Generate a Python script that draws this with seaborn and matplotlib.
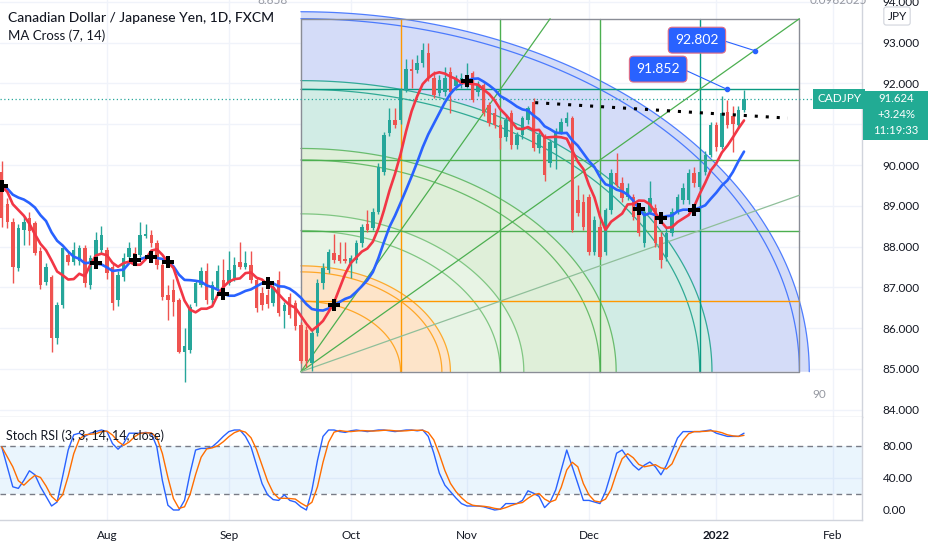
import numpy as np
import pandas as pd
import matplotlib
matplotlib.use("Agg")
import matplotlib.pyplot as plt
import seaborn as sns
from matplotlib.patches import Polygon, FancyBboxPatch

# ---- data ----
opens = [89.84, 89.05, 88.61, 87.48, 88.41, 88.70, 88.58, 87.88, 87.14, 87.26,
         85.76, 86.57, 87.80, 87.63, 87.65, 87.97, 87.06, 87.63, 87.92, 87.92,
         87.51, 86.69, 87.26, 87.75, 87.84, 87.80, 88.26, 88.28, 88.09, 87.55,
         86.81, 86.93, 86.69, 85.42, 85.47, 86.61, 87.06, 87.39, 86.69, 86.98,
         87.18, 87.11, 87.23, 87.63, 87.51, 87.55, 87.18, 86.86, 86.80, 86.61,
         87.18, 86.41, 86.77, 86.61, 86.08, 85.95, 85.15, 85.88, 87.11, 87.43,
         87.85, 87.80, 87.70, 87.60, 87.67, 88.09, 88.55, 88.46, 88.85, 89.83,
         90.78, 91.10, 91.10, 91.84, 92.36, 92.33, 92.50, 92.75, 92.13, 91.77,
         91.79, 92.28, 91.95, 91.96, 91.95, 92.26, 91.79, 91.96, 91.47, 91.28,
         90.98, 90.69, 91.28, 90.49, 90.74, 91.10, 91.55, 90.42, 90.66, 90.05,
         90.42, 90.81, 91.03, 91.15, 89.14, 89.09, 89.22, 87.87, 88.48, 87.87,
         88.89, 89.80, 89.56, 89.22, 89.22, 88.82, 88.09, 88.85, 88.94, 88.24,
         87.75, 88.34, 88.85, 89.14, 89.14, 89.80, 89.46, 89.83, 90.25, 90.98,
         90.44, 91.30, 91.20, 90.98, 91.35]
highs = [90.10, 89.20, 88.70, 88.55, 88.75, 88.85, 88.62, 88.00, 87.60, 87.30,
         86.65, 88.00, 87.90, 88.10, 88.05, 88.05, 87.80, 88.35, 88.50, 88.00,
         87.60, 87.40, 87.85, 88.10, 88.00, 88.60, 88.55, 88.40, 88.15, 87.60,
         87.05, 87.20, 86.75, 86.00, 86.60, 87.15, 87.50, 87.60, 87.15, 87.55,
         87.70, 87.90, 87.75, 88.10, 87.90, 87.90, 87.25, 87.00, 86.95, 87.10,
         87.40, 86.65, 86.85, 86.70, 86.15, 86.05, 85.95, 87.20, 87.60, 87.95,
         88.30, 88.10, 88.10, 87.80, 88.15, 88.55, 88.90, 88.95, 90.05, 90.80,
         91.40, 91.40, 91.90, 92.60, 92.60, 92.70, 93.00, 93.00, 92.30, 92.20,
         92.40, 92.40, 92.20, 92.25, 92.50, 92.30, 92.05, 92.00, 91.55, 91.40,
         91.10, 91.25, 91.35, 90.80, 91.20, 91.45, 91.65, 90.80, 90.75, 90.65,
         90.90, 91.15, 91.30, 91.20, 89.50, 89.30, 89.30, 88.75, 88.55, 88.95,
         89.90, 90.30, 89.70, 89.55, 89.30, 88.95, 88.95, 89.60, 89.05, 88.35,
         88.45, 88.95, 89.30, 89.55, 89.90, 89.95, 90.10, 90.35, 91.05, 91.05,
         91.70, 91.60, 91.45, 91.45, 91.85]
lows = [88.49, 88.45, 87.11, 87.40, 88.05, 88.05, 87.80, 86.95, 87.05, 85.42,
        85.60, 86.50, 87.55, 87.55, 87.55, 87.00, 86.95, 87.55, 87.85, 87.20,
        86.45, 86.55, 87.15, 87.70, 87.55, 87.75, 88.20, 88.00, 87.45, 86.70,
        86.20, 86.30, 85.40, 84.69, 85.40, 86.55, 87.00, 86.60, 86.60, 86.90,
        86.85, 87.05, 87.15, 87.45, 87.45, 87.10, 86.40, 86.45, 86.50, 86.55,
        86.30, 86.00, 86.25, 85.95, 85.15, 85.05, 84.95, 85.80, 86.95, 87.35,
        87.60, 87.60, 87.60, 87.23, 87.60, 88.00, 88.35, 88.40, 88.80, 89.75,
        90.70, 90.90, 91.00, 91.80, 91.90, 92.25, 92.40, 92.05, 91.65, 91.70,
        91.70, 91.28, 91.85, 91.90, 91.90, 91.55, 91.70, 91.20, 90.95, 90.90,
        90.40, 90.60, 90.40, 90.40, 90.65, 91.00, 90.35, 90.30, 89.60, 89.95,
        89.90, 90.75, 90.95, 88.35, 88.75, 88.40, 87.80, 87.80, 87.70, 87.80,
        88.80, 89.45, 89.10, 89.15, 88.65, 88.25, 88.00, 88.80, 88.00, 87.48,
        87.65, 88.25, 88.80, 89.05, 89.05, 89.45, 89.40, 89.75, 90.20, 90.35,
        90.40, 90.90, 90.32, 90.90, 91.30]
closes = [88.70, 88.61, 87.51, 88.46, 88.61, 88.37, 87.84, 87.06, 87.51, 85.76,
          86.57, 87.97, 87.63, 87.92, 87.97, 87.10, 87.72, 88.16, 88.28, 87.35,
          86.62, 87.31, 87.72, 87.97, 87.63, 88.28, 88.30, 88.09, 87.55, 86.77,
          86.69, 86.65, 85.42, 85.55, 86.53, 87.10, 87.39, 86.69, 87.06, 87.39,
          86.90, 87.43, 87.55, 87.51, 87.60, 87.18, 86.49, 86.57, 86.60, 87.02,
          86.37, 86.57, 86.33, 86.04, 85.20, 85.20, 85.88, 87.11, 87.48, 87.87,
          87.67, 87.65, 87.65, 87.72, 88.09, 88.48, 88.40, 88.85, 89.95, 90.73,
          91.10, 90.98, 91.84, 92.36, 92.30, 92.50, 92.82, 92.13, 91.72, 92.09,
          92.13, 91.79, 92.10, 92.13, 92.08, 91.60, 91.96, 91.28, 91.03, 90.98,
          90.66, 91.10, 90.49, 90.74, 91.15, 91.40, 90.42, 90.74, 89.76, 90.57,
          90.81, 91.06, 91.15, 88.41, 88.82, 88.48, 87.87, 88.65, 87.75, 88.89,
          89.80, 89.51, 89.19, 89.44, 88.73, 88.34, 88.85, 89.19, 88.09, 87.67,
          88.34, 88.85, 89.22, 89.44, 89.80, 89.56, 89.83, 90.25, 90.98, 90.44,
          91.28, 90.98, 91.00, 91.35, 91.62]
# closes of the 14 sessions before the visible window (needed for the MAs)
warmup_closes = [89.20, 89.35, 89.60, 89.45, 89.30, 89.55, 89.40,
                 89.70, 89.50, 89.65, 89.45, 89.60, 89.75, 89.65]
stoch_k = [79, 54, 29, 27, 37, 49, 44, 29, 17, 5, 10, 42, 75, 94, 96, 92, 96, 98, 100, 98,
           83, 76, 83, 96, 96, 96, 97, 96, 79, 37, 6, 0, 0, 12, 46, 75, 77, 77, 79, 85,
           92, 98, 100, 100, 92, 79, 56, 33, 19, 13, 12, 19, 12, 10, 4, 0, 25, 62, 92, 100,
           100, 98, 97, 99, 100, 99, 98, 99, 100, 100, 99, 98, 99, 100, 100, 99, 100, 92, 71, 46,
           31, 23, 15, 8, 5, 5, 5, 4, 2, 0, 1, 8, 8, 8, 12, 24, 21, 17, 3, 10,
           25, 50, 75, 54, 33, 12, 12, 10, 8, 23, 46, 71, 75, 65, 56, 50, 56, 60, 54, 44,
           56, 73, 90, 98, 98, 98, 98, 99, 100, 96, 94, 92, 92, 92, 96]
month_ticks = [19, 41, 63, 84, 106, 129, 150]
month_labels = ["Aug", "Sep", "Oct", "Nov", "Dec", "2022", "Feb"]
price_ticks = [84, 85, 86, 87, 88, 89, 90, 91, 92, 93, 94]
stoch_ticks = [0, 40, 80]

# gann box: start bar, length in bars, low price, price height
gann_start, gann_bars = 54, 90
gann_low, gann_height = 84.93, 8.658
arc_levels = [(1, 0), (1, 1), (1.5, 0), (2, 0), (2, 1), (3, 0), (3, 1),
              (4, 0), (4, 1), (5, 0), (5, 1)]
fan_ratios = [2.0, 1.0, 0.5]
trend_pts = [(96.3, 91.53), (141.9, 91.15)]
# (bar, price, label, label centre offset in bars, in price)
price_marks = [(131, 91.852, "91.852", -12.5, 0.50), (136, 92.802, "92.802", -10.5, 0.26)]
last_price, last_change, countdown = 91.624, "+3.24%", "11:19:33"

UP, DOWN = "#26a69a", "#ef5350"
W, H = 932, 550

sns.set_theme(style="white")
plt.rcParams["font.family"] = ["Lato", "DejaVu Sans"]

fig = plt.figure(figsize=(W / 100, H / 100), dpi=100)
ax = fig.add_axes([0, 133 / H, 862 / W, 417 / H])
ax2 = fig.add_axes([0, 30 / H, 862 / W, 103 / H])

n = np.arange(len(closes))

# moving averages (SMA 7 / 14) and their crosses
all_close = pd.Series(warmup_closes + closes)
ma7 = all_close.rolling(7).mean().values
ma14 = all_close.rolling(14).mean().values
diff = np.sign(ma7 - ma14)
off = len(warmup_closes)
cross_idx = [i - off for i in range(off, len(all_close)) if diff[i] != diff[i - 1]]
ma_df = pd.DataFrame({"bar": n, "ma7": ma7[off:], "ma14": ma14[off:]})

# ---- gann box ----
ux, uy = gann_bars / 5, gann_height / 5
t = np.linspace(0, np.pi / 2, 120)
radii = [np.hypot(a, b) for a, b in arc_levels]
fill_bands = [(0, 1.5, "#fde4c9"), (1.5, radii[4], "#e8f4e5"), (radii[4], radii[6], "#dfefd9"),
              (radii[6], radii[8], "#d1ece5"), (radii[8], radii[10], "#d4dcf8")]
for r0, r1, c in fill_bands:
    outer = np.column_stack([gann_start + r1 * ux * np.cos(t), gann_low + r1 * uy * np.sin(t)])
    inner = np.column_stack([gann_start + r0 * ux * np.cos(t[::-1]), gann_low + r0 * uy * np.sin(t[::-1])])
    ax.add_patch(Polygon(np.vstack([outer, inner]), closed=True, fc=c, ec="none", zorder=1))

arc_colors = ["#ff9800"] * 3 + ["#66bb6a"] * 2 + ["#4caf50"] * 2 + ["#089981"] * 2 + ["#2962ff"] * 2
for r, c in zip(radii, arc_colors):
    ax.plot(gann_start + r * ux * np.cos(t), gann_low + r * uy * np.sin(t), color=c, lw=0.9, alpha=0.8, zorder=2)

level_colors = ["#ff9800", "#4caf50", "#4caf50", "#089981"]
for k, c in enumerate(level_colors, start=1):
    ax.plot([gann_start + k * ux] * 2, [gann_low, gann_low + gann_height], color=c, lw=1, zorder=2)
    ax.plot([gann_start, gann_start + gann_bars], [gann_low + k * uy] * 2, color=c, lw=1, zorder=2)
ax.plot([gann_start, gann_start + gann_bars, gann_start + gann_bars, gann_start, gann_start],
        [gann_low, gann_low, gann_low + gann_height, gann_low + gann_height, gann_low],
        color="#8a8d96", lw=1, zorder=2)
for ratio, c in zip(fan_ratios, ["#4caf50", "#4caf50", "#8fbf9a"]):
    dx = min(5, 5 / ratio)
    ax.plot([gann_start, gann_start + dx * ux], [gann_low, gann_low + dx * ratio * uy],
            color=c, lw=0.9, zorder=2)

# ---- candles ----
for i in n:
    col = UP if closes[i] >= opens[i] else DOWN
    ax.vlines(i, lows[i], highs[i], color=col, lw=1, zorder=3)
    lo, hi = sorted([opens[i], closes[i]])
    ax.bar(i, max(hi - lo, 0.03), bottom=lo, width=0.62, color=col, lw=0, zorder=3)

sns.lineplot(data=ma_df, x="bar", y="ma14", ax=ax, color="#2962ff", lw=1.9, zorder=4)
sns.lineplot(data=ma_df, x="bar", y="ma7", ax=ax, color="#f23645", lw=1.9, zorder=4)
ax.plot(cross_idx, ma_df["ma14"].values[cross_idx], "P", color="black", ms=9, mew=0, zorder=5)

# trend line, last price line and price marks
ax.plot(*zip(*trend_pts), color="black", lw=2.2, ls=(0, (1, 2.6)), zorder=5)
ax.axhline(last_price, color=UP, lw=0.9, ls=(0, (1, 2)), zorder=2)
for bx, py, txt, dxl, dyl in price_marks:
    cx, cy = bx + dxl, py + dyl
    ax.plot([cx + 4.5, bx], [cy, py], color="#2962ff", lw=0.8, zorder=6)
    ax.plot(bx, py, "o", color="#2962ff", ms=3, zorder=6)
    ax.text(cx, cy, txt, ha="center", va="center", color="white", fontsize=10, zorder=7,
            bbox=dict(boxstyle="round,pad=0.5,rounding_size=0.3", fc="#2962ff", ec="#e06c85", lw=0.8))

# axes styling
ax.set_xlim(-0.31, 155.3)
ax.set_ylim(83.82, 94.047)
ax2.set_xlim(-0.31, 155.3)
ax2.set_ylim(-12.5, 116.25)
for a in (ax, ax2):
    a.set_xlabel("")
    a.set_ylabel("")
    a.yaxis.tick_right()
    a.tick_params(axis="both", length=0, labelsize=8.5, labelcolor="#131722", pad=15)
    for s in ("top", "left"):
        a.spines[s].set_visible(False)
    for s in ("right", "bottom"):
        a.spines[s].set_color("#d1d4dc")
        a.spines[s].set_linewidth(1)
    a.set_xticks(month_ticks)
    for m in month_ticks:
        a.axvline(m, color="#f0f3fa", lw=1, zorder=0)
ax.set_yticks(price_ticks)
# the 91.000 label sits under the last-price badge, as on the original
ax.set_yticklabels(["" if p == 91 else f"{p:.3f}" for p in price_ticks])
for p in price_ticks:
    ax.axhline(p, color="#f0f3fa", lw=1, zorder=0)
ax.set_xticklabels([])

# stoch rsi pane
stoch_df = pd.DataFrame({"bar": n, "k": stoch_k})
stoch_df["d"] = stoch_df["k"].rolling(3, min_periods=1).mean()
ax2.axhspan(20, 80, color="#2196f3", alpha=0.09, lw=0, zorder=1)
for lvl in (80, 20):
    ax2.axhline(lvl, color="#787b86", lw=1, ls=(0, (4, 3)), zorder=2)
ax2.axhline(40, color="#f0f3fa", lw=1, zorder=0)
sns.lineplot(data=stoch_df, x="bar", y="k", ax=ax2, color="#2962ff", lw=1, zorder=3)
sns.lineplot(data=stoch_df, x="bar", y="d", ax=ax2, color="#ff6d00", lw=1, zorder=3)
ax2.set_xlabel("")
ax2.set_ylabel("")
ax2.set_yticks(stoch_ticks)
ax2.set_yticklabels([f"{s:.2f}" for s in stoch_ticks])
ax2.set_xticks(month_ticks)
ax2.set_xticklabels(month_labels)
ax2.tick_params(axis="x", pad=7)
ax2.get_xticklabels()[month_labels.index("2022")].set_fontweight("bold")


def px(x, y):
    return x / W, 1 - y / H


# header texts
fig.text(*px(8, 18), "Canadian Dollar / Japanese Yen, 1D, FXCM", fontsize=10, color="#131722",
         va="center", fontweight="medium")
fig.text(*px(8, 36), "MA Cross (7, 14)", fontsize=9.5, color="#131722", va="center")
fig.text(*px(6, 436), "Stoch RSI (3, 3, 14, 14, close)", fontsize=9, color="#131722", va="center")

# gann box labels
fig.text(*px(273, 1), "8.658", fontsize=8.5, color="#9598a1", ha="center", va="center")
fig.text(*px(838, 1), "0.0962025", fontsize=8.5, color="#9598a1", ha="center", va="center")
fig.text(*px(819, 395), "90", fontsize=8.5, color="#9598a1", ha="center", va="center")

# price scale badges
fig.text(*px(897, 16), "JPY", fontsize=8.5, color="#131722", ha="center", va="center",
         bbox=dict(boxstyle="round,pad=0.3,rounding_size=0.2", fc="white", ec="#d1d4dc", lw=0.8))
fig.text(*px(839, 99), "CADJPY", fontsize=8.5, color="white", ha="center", va="center",
         bbox=dict(boxstyle="square,pad=0.35", fc="#22ab94", ec="none"))
fig.patches.append(FancyBboxPatch(px(863, 140), 65 / W, 49 / H, boxstyle="square,pad=0",
                                  fc="#22ab94", ec="none", transform=fig.transFigure, figure=fig))
fig.text(*px(896, 99), f"{last_price:.3f}", fontsize=8.2, color="white", ha="center", va="center")
fig.text(*px(896, 115), last_change, fontsize=8.2, color="white", ha="center", va="center")
fig.text(*px(896, 131), countdown, fontsize=8.2, color="white", ha="center", va="center")

fig.savefig("out.png", dpi=100, facecolor="white")
